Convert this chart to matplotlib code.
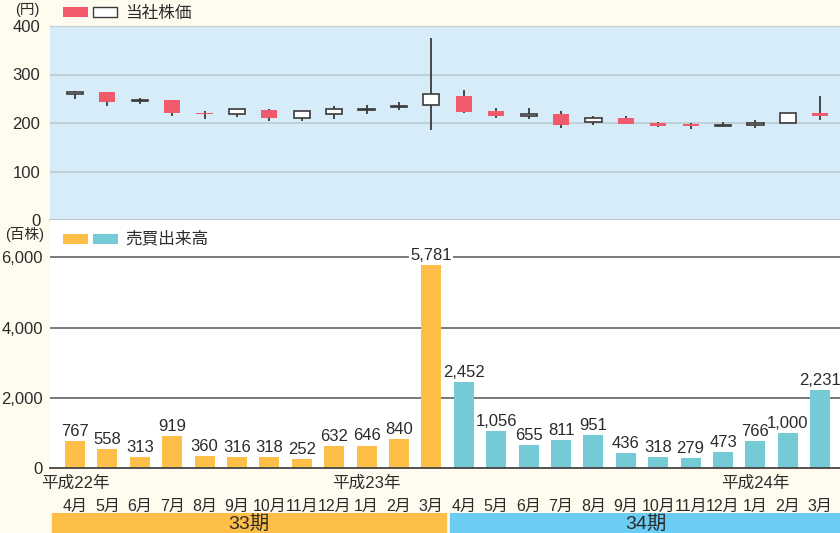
import matplotlib
matplotlib.use("Agg")
import matplotlib.pyplot as plt
from matplotlib.patches import Rectangle
from matplotlib import transforms

plt.rcParams['font.family'] = ['Liberation Sans', 'Noto Sans CJK JP']

# 月ラベル（平成22年4月〜平成24年3月）
months = ['4月', '5月', '6月', '7月', '8月', '9月', '10月', '11月', '12月', '1月', '2月', '3月'] * 2
year_labels = ['平成22年', '平成23年', '平成24年']
year_pos = [0, 9, 21]
periods = ['33期', '34期']

# 当社株価（始値・高値・安値・終値）
opens = [259, 264, 245, 247, 220.5, 219, 227, 210, 219, 227, 233, 238,
         256, 225, 215, 219, 203, 210, 200, 198, 193, 195, 199, 221]
highs = [266, 264, 252, 248, 225, 229, 228, 225, 235, 238, 244, 375,
         268, 230, 230, 224, 214, 214, 202, 200, 202, 206, 220, 255]
lows = [249, 235, 240, 214, 208, 213, 205, 205, 208, 219, 227, 186,
        221, 211, 208, 190, 195, 198, 192, 188, 193, 190, 199, 206]
closes = [264, 244, 247, 221, 218.5, 228, 210, 224, 228, 229, 235, 260,
          223, 214, 218, 196, 210, 198, 194, 194, 195, 200, 220, 214]

# 売買出来高（百株）
volume = [767, 558, 313, 919, 360, 316, 318, 252, 632, 646, 840, 5781,
          2452, 1056, 655, 811, 951, 436, 318, 279, 473, 766, 1000, 2231]

cream = '#fffcef'
sky = '#d6edf9'
red = '#f15a6a'
orange = '#fdbf47'
teal = '#74cbd6'
band_blue = '#6bcdf3'
txt = '#2b2b2b'

W, H = 840, 533
fig = plt.figure(figsize=(W / 100, H / 100), dpi=100, facecolor=cream)


def box(x0, y0, x1, y1):
    # ピクセル座標 -> figure座標
    return [x0 / W, 1 - y1 / H, (x1 - x0) / W, (y1 - y0) / H]


x = list(range(len(months)))
xlim = (-0.77, 23.61)

# ---- 株価（ローソク足） ----
ax1 = fig.add_axes(box(50, 26, 840, 220))
ax1.set_facecolor(sky)
ax1.set_xlim(*xlim)
ax1.set_ylim(0, 400)
ax1.set_yticks([0, 100, 200, 300, 400])
ax1.tick_params(axis='y', length=0, pad=7, labelsize=12, labelcolor=txt)
ax1.set_xticks([])
for v in [100, 200, 300]:
    ax1.axhline(v, color='#bfcdd3', lw=1.3, zorder=1)
for s in ['left', 'right']:
    ax1.spines[s].set_visible(False)
ax1.spines['bottom'].set_color('#b9c4c8')
ax1.spines['bottom'].set_linewidth(1.3)
ax1.spines['top'].set_color('#c8d0d3')
ax1.spines['top'].set_linewidth(1.0)

ax1.vlines(x, lows, highs, color='#3a3a3a', lw=1.3, zorder=2)
for i in x:
    o, c = opens[i], closes[i]
    lo, hi = min(o, c), max(o, c)
    if c < o:
        ax1.bar(i, hi - lo, bottom=lo, width=0.5, color=red, zorder=3)
    else:
        ax1.bar(i, hi - lo, bottom=lo, width=0.5, facecolor='white',
                edgecolor='#3a3a3a', lw=1.2, zorder=3)

# ---- 売買出来高 ----
ax2 = fig.add_axes(box(50, 220, 840, 468.3))
ax2.set_facecolor('white')
ax2.set_xlim(*xlim)
ax2.set_ylim(0, 7060)
ax2.set_yticks([0, 2000, 4000, 6000])
ax2.set_yticklabels(['0', '2,000', '4,000', '6,000'])
ax2.tick_params(axis='y', length=0, pad=5, labelsize=12, labelcolor=txt)
for v in [2000, 4000, 6000]:
    ax2.axhline(v, color='#555555', lw=1.1, zorder=1)
for s in ['left', 'right', 'top']:
    ax2.spines[s].set_visible(False)
ax2.spines['bottom'].set_color('#444444')
ax2.spines['bottom'].set_linewidth(1.3)

bar_colors = [orange] * 12 + [teal] * 12
ax2.bar(x, volume, width=0.62, color=bar_colors, zorder=2)
for i, v in zip(x, volume):
    t = ax2.annotate(f'{v:,}', (i, v), xytext=(0, 1.5), textcoords='offset points',
                     ha='center', va='bottom', fontsize=12, color=txt, zorder=4)
    if v > 5000:
        t.set_bbox(dict(facecolor='white', edgecolor='none', pad=1))

ax2.set_xticks(x)
ax2.set_xticklabels(months)
ax2.tick_params(axis='x', length=0, pad=22, labelsize=11.5, labelcolor=txt)

tr = transforms.blended_transform_factory(ax2.transData, fig.transFigure)
for p, lab in zip(year_pos, year_labels):
    fig.text(p, 1 - 483 / H, lab, transform=tr, ha='center', va='center',
             fontsize=12, color=txt)

# ---- 期の帯 ----
ax3 = fig.add_axes(box(50, 513, 840, 533))
ax3.set_xlim(*xlim)
ax3.set_ylim(0, 1)
ax3.axis('off')
spans = [(-0.72, 11.44), (11.56, 23.7)]
for (a, b), lab, col in zip(spans, periods, [orange, band_blue]):
    ax3.axvspan(a, b, color=col)
    ax3.text((a + b) / 2, 0.45, lab, ha='center', va='center', fontsize=14, color=txt)

# ---- 凡例・単位 ----
fig.patches.append(Rectangle((63 / W, 1 - 17 / H), 25 / W, 10 / H, transform=fig.transFigure,
                             facecolor=red, edgecolor='none'))
fig.patches.append(Rectangle((93 / W, 1 - 17 / H), 24 / W, 10 / H, transform=fig.transFigure,
                             facecolor='white', edgecolor='#3a3a3a', lw=1))
fig.text(125 / W, 1 - 13 / H, '当社株価', ha='left', va='center', fontsize=12, color=txt)
fig.text(27 / W, 1 - 10 / H, '(円)', ha='center', va='center', fontsize=10.5, color=txt)

fig.patches.append(Rectangle((63 / W, 1 - 244 / H), 25 / W, 10 / H, transform=fig.transFigure,
                             facecolor=orange, edgecolor='none'))
fig.patches.append(Rectangle((93 / W, 1 - 244 / H), 25 / W, 10 / H, transform=fig.transFigure,
                             facecolor=teal, edgecolor='none'))
fig.text(125 / W, 1 - 239 / H, '売買出来高', ha='left', va='center', fontsize=12, color=txt)
fig.text(25 / W, 1 - 235 / H, '(百株)', ha='center', va='center', fontsize=10.5, color=txt)

fig.savefig('out.png', dpi=100, facecolor=cream)
